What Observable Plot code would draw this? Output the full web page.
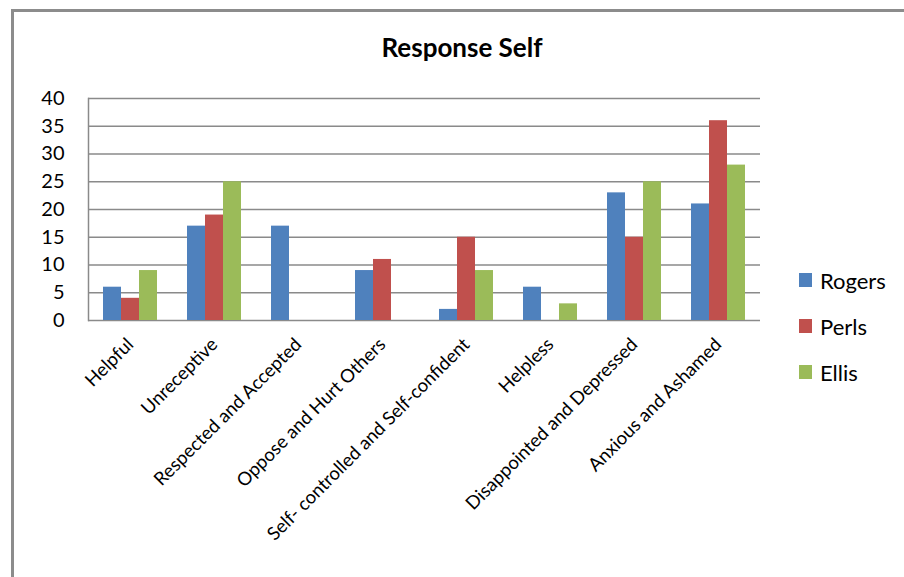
<!DOCTYPE html>
<html>
<head>
<meta charset="utf-8">
<script src="https://cdn.jsdelivr.net/npm/d3@7"></script>
<script src="https://cdn.jsdelivr.net/npm/@observablehq/plot@0.6"></script>
<style>
  html, body { margin: 0; padding: 0; background: #fff; }
  #wrap { position: relative; width: 904px; height: 577px; overflow: hidden; font-family: Lato, "Noto Sans", sans-serif; }
  #border { position: absolute; left: 11px; top: 9px; width: 1000px; height: 1000px; border-left: 3px solid #8c8c8c; border-top: 3px solid #8c8c8c; box-sizing: border-box; }
  #title { position: absolute; left: 0; width: 924px; top: 31px; text-align: center; font-weight: bold; font-size: 26px; color: #000; }
  #legend { position: absolute; left: 799px; top: 257px; }
  .item { display: flex; align-items: center; height: 46px; font-size: 22px; color: #000; }
  .sw { width: 13px; height: 14px; margin-right: 8px; }
  #chart { position: absolute; left: 0; top: 0; }
</style>
</head>
<body>
<div id="wrap">
  <div id="border"></div>
  <div id="chart"></div>
  <div id="title">Response Self</div>
  <div id="legend"></div>
</div>
<script>
const categories = [
  "Helpful",
  "Unreceptive",
  "Respected and Accepted",
  "Oppose and Hurt Others",
  "Self- controlled and Self-confident",
  "Helpless",
  "Disappointed and Depressed",
  "Anxious and Ashamed"
];
const series = ["Rogers", "Perls", "Ellis"];
const rogers = [6, 17, 17, 9, 2, 6, 23, 21];
const perls  = [4, 19, 0, 11, 15, 0, 15, 36];
const ellis  = [9, 25, 0, 0, 9, 3, 25, 28];
const yTicks = [0, 5, 10, 15, 20, 25, 30, 35, 40];
const colors = ["#4F81BD", "#C0504D", "#9BBB59"];

const values = [rogers, perls, ellis];
const data = categories.flatMap((c, i) => series.map((s, j) => ({category: c, series: s, value: values[j][i]})));

const chart = Plot.plot({
  width: 904,
  height: 577,
  marginLeft: 87,
  marginRight: 144,
  marginTop: 98,
  marginBottom: 257,
  style: {fontFamily: "Lato, 'Noto Sans', sans-serif", background: "transparent", color: "#000"},
  fx: {domain: categories, padding: 0, label: null, axis: null},
  x: {domain: series, paddingInner: 0, paddingOuter: 0.75, axis: null},
  y: {domain: [0, 40], axis: null},
  color: {domain: series, range: colors},
  marks: [
    Plot.ruleY(yTicks, {stroke: "#8a8a8a", strokeWidth: 1.5}),
    Plot.barY(data, {fx: "category", x: "series", y: "value", fill: "series"}),
    Plot.frame({anchor: "left", facetAnchor: "left", stroke: "#8a8a8a", strokeWidth: 1.5}),
    Plot.axisY(yTicks, {tickSize: 0, tickPadding: 24, fontSize: 20, fill: "#000", label: null}),
    Plot.axisFx({anchor: "bottom", tickRotate: -45, tickSize: 0, tickPadding: 21, fontSize: 18.5, fill: "#000", label: null})
  ]
});
document.getElementById("chart").appendChild(chart);

const legend = document.getElementById("legend");
series.forEach((s, i) => {
  const item = document.createElement("div");
  item.className = "item";
  const sw = document.createElement("div");
  sw.className = "sw";
  sw.style.background = colors[i];
  const label = document.createElement("span");
  label.textContent = s;
  item.appendChild(sw);
  item.appendChild(label);
  legend.appendChild(item);
});
</script>
</body>
</html>
